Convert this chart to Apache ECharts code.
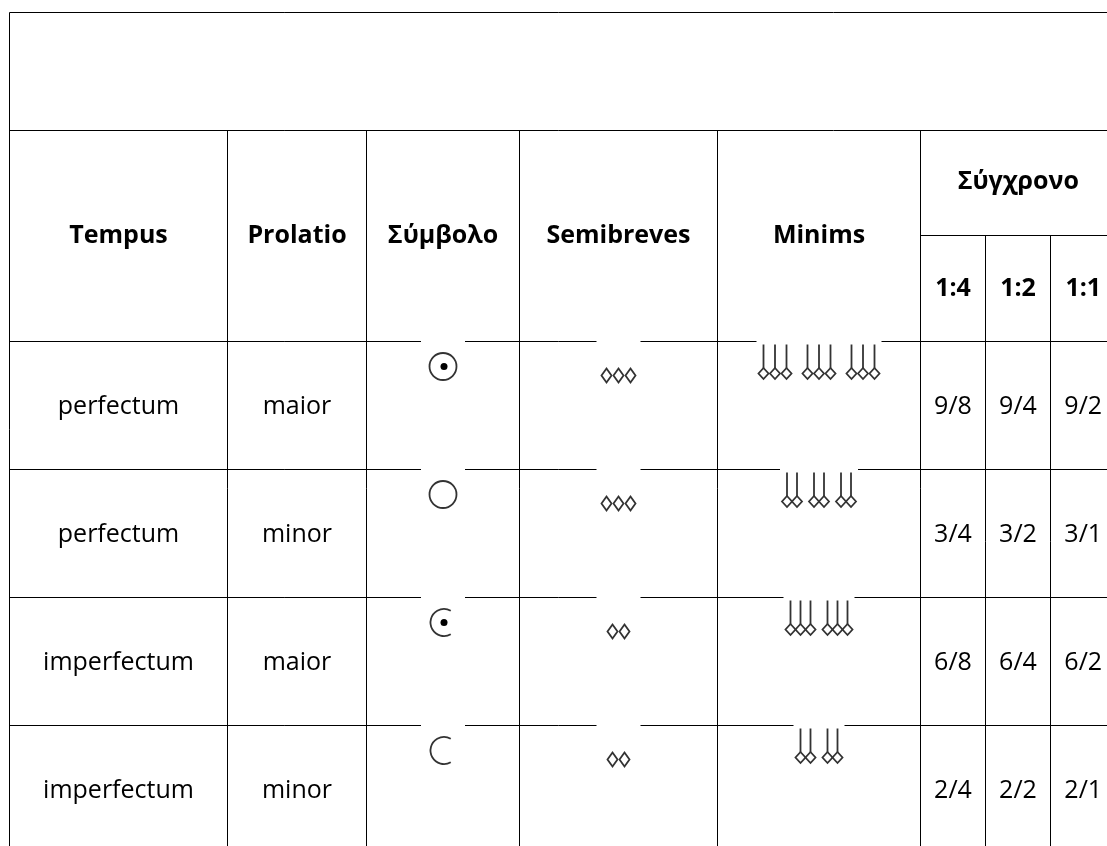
<!DOCTYPE html>
<html>
<head>
<meta charset="utf-8">
<script src="https://cdn.jsdelivr.net/npm/echarts@6.0.0/dist/echarts.min.js"></script>
<style>
	html, body { margin: 0; padding: 0; background: #fff; }
	#mensuration { width: 1107px; height: 846px; }
</style>
</head>
<body>
<div id="mensuration"></div>
<script>
// table content
var headers = ['Tempus', 'Prolatio', 'Σύμβολο', 'Semibreves', 'Minims'];
var modernHeader = 'Σύγχρονο';
var ratios = ['1:4', '1:2', '1:1'];
var tempus = ['perfectum', 'perfectum', 'imperfectum', 'imperfectum'];
var prolatio = ['maior', 'minor', 'maior', 'minor'];
var circleClosed = [true, true, false, false];
var circleDot = [true, false, true, false];
var semibreves = [3, 3, 2, 2];
var minimsPerSemibreve = [3, 2, 3, 2];
var modern = [
	['9/8', '9/4', '9/2'],
	['3/4', '3/2', '3/1'],
	['6/8', '6/4', '6/2'],
	['2/4', '2/2', '2/1']
];

// layout of the table (axis units = pixels)
var colX = [9.5, 227.5, 366.5, 519.5, 717.5, 920.5, 985.5, 1050.5, 1116];
var rowY = [12.5, 130.5, 341.5, 469.5, 597.5, 725.5, 853.5];
var subHeaderY = 235.5;
var minimStep = [11.5, 10, 10, 10];
var minimGroupGap = [21, 17, 17, 17];
var font = '"Open Sans", "Noto Sans", sans-serif';
var ink = '#333';

function colMid(c) { return (colX[c] + colX[c + 1]) / 2; }

function textEl(api, str, x, y, bold) {
	var p = api.coord([x, y]);
	return {
		type: 'text',
		style: {
			x: p[0], y: p[1], text: str, fill: '#000',
			fontSize: 25, fontFamily: font, fontWeight: bold ? 'bold' : 'normal',
			align: 'center', verticalAlign: 'middle'
		}
	};
}

function lineEl(api, x1, y1, x2, y2) {
	var a = api.coord([x1, y1]), b = api.coord([x2, y2]);
	return {
		type: 'line',
		shape: { x1: a[0], y1: a[1], x2: b[0], y2: b[1] },
		style: { stroke: '#000', lineWidth: 1 }
	};
}

function diamondEl(api, x, y, hw, hh) {
	var pts = [[x, y - hh], [x + hw, y], [x, y + hh], [x - hw, y]].map(function (q) {
		return api.coord(q);
	});
	return {
		type: 'polygon',
		shape: { points: pts },
		style: { fill: 'none', stroke: ink, lineWidth: 1.8 }
	};
}

function gapEl(api, cx, y, w) {
	var p = api.coord([cx - w / 2, y - 2]);
	return { type: 'rect', shape: { x: p[0], y: p[1], width: w, height: 4 }, style: { fill: '#fff' } };
}

function renderLines(params, api) {
	var right = colX[colX.length - 1];
	var els = [];
	els.push(lineEl(api, colX[0], rowY[0], right, rowY[0]));
	els.push(lineEl(api, colX[0], rowY[0], colX[0], rowY[rowY.length - 1]));
	for (var r = 1; r < rowY.length; r++) {
		els.push(lineEl(api, colX[0], rowY[r], right, rowY[r]));
	}
	for (var c = 1; c <= 5; c++) {
		els.push(lineEl(api, colX[c], rowY[1], colX[c], rowY[rowY.length - 1]));
	}
	els.push(lineEl(api, colX[5], subHeaderY, right, subHeaderY));
	els.push(lineEl(api, colX[6], subHeaderY, colX[6], rowY[rowY.length - 1]));
	els.push(lineEl(api, colX[7], subHeaderY, colX[7], rowY[rowY.length - 1]));
	return { type: 'group', children: els };
}

function renderHeader(params, api) {
	var els = [];
	var mid = (rowY[1] + rowY[2]) / 2;
	headers.forEach(function (h, i) {
		els.push(textEl(api, h, colMid(i), mid, true));
	});
	els.push(textEl(api, modernHeader, (colX[5] + colX[8]) / 2, (rowY[1] + subHeaderY) / 2 - 1, true));
	ratios.forEach(function (t, i) {
		els.push(textEl(api, t, colMid(5 + i), (subHeaderY + rowY[2]) / 2, true));
	});
	return { type: 'group', children: els };
}

function renderRow(params, api) {
	var r = api.value(0);
	var top = rowY[r + 2], bottom = rowY[r + 3];
	var mid = (top + bottom) / 2 + 1;
	var els = [];

	els.push(textEl(api, tempus[r], colMid(0), mid, false));
	els.push(textEl(api, prolatio[r], colMid(1), mid, false));
	modern[r].forEach(function (t, i) {
		els.push(textEl(api, t, colMid(5 + i), mid, false));
	});

	// mensuration sign
	var sx = colMid(2), sy = top + 25;
	els.push(gapEl(api, sx, top, 44));
	var c = api.coord([sx, sy]);
	if (circleClosed[r]) {
		els.push({ type: 'circle', shape: { cx: c[0], cy: c[1], r: 13.5 },
			style: { fill: 'none', stroke: ink, lineWidth: 1.8 } });
	} else {
		els.push({ type: 'arc', shape: { cx: c[0] + 1, cy: c[1], r: 13.5,
			startAngle: Math.PI / 3, endAngle: Math.PI * 5 / 3, clockwise: true },
			style: { fill: 'none', stroke: ink, lineWidth: 1.8 } });
	}
	if (circleDot[r]) {
		els.push({ type: 'circle', shape: { cx: c[0] + 1, cy: c[1], r: 3.5 }, style: { fill: '#000' } });
	}

	// semibreves
	var bx = colMid(3), n = semibreves[r], step = 12;
	els.push(gapEl(api, bx, top, 44));
	for (var i = 0; i < n; i++) {
		els.push(diamondEl(api, bx + (i - (n - 1) / 2) * step, top + 34, 5, 7));
	}

	// minims, grouped per semibreve
	var per = minimsPerSemibreve[r], inner = minimStep[r], between = minimGroupGap[r];
	var span = n * (per - 1) * inner + (n - 1) * between;
	var mx = colMid(4), x0 = mx - span / 2;
	els.push(gapEl(api, mx, top, span + 14));
	for (var g = 0; g < n; g++) {
		for (var k = 0; k < per; k++) {
			var x = x0 + g * ((per - 1) * inner + between) + k * inner;
			var hy = top + 32;
			els.push(diamondEl(api, x, hy, 5, 5.5));
			var s1 = api.coord([x, hy - 5.5]), s2 = api.coord([x, top + 3]);
			els.push({ type: 'line', shape: { x1: s1[0], y1: s1[1], x2: s2[0], y2: s2[1] },
				style: { stroke: ink, lineWidth: 1.8 } });
		}
	}
	return { type: 'group', children: els };
}

var chart = echarts.init(document.getElementById('mensuration'));
var option = {
	animation: false,
	grid: { left: 0, right: 0, top: 0, bottom: 0 },
	xAxis: { type: 'value', min: 0, max: 1107, show: false },
	yAxis: { type: 'value', min: 0, max: 846, inverse: true, show: false },
	series: [
		{ type: 'custom', name: 'lines', z: 1, silent: true, data: [[0]], renderItem: renderLines },
		{ type: 'custom', name: 'header', z: 2, silent: true, data: [[0]], renderItem: renderHeader },
		{
			type: 'custom', name: 'rows', z: 3, silent: true,
			data: tempus.map(function (t, i) { return [i]; }),
			renderItem: renderRow
		}
	]
};
chart.setOption(option);
window.addEventListener('resize', function () {
	chart.resize();
});
</script>
</body>
</html>
